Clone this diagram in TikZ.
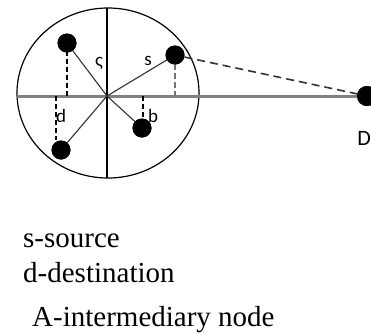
\documentclass[tikz,border=0pt]{standalone}
\usepackage{fontspec}
\usetikzlibrary{shapes.geometric}
\setmainfont{Liberation Serif}
\newfontfamily\lblfont{Carlito}
\begin{document}
\begin{tikzpicture}[x=1pt,y=-1pt,
  dot/.style={circle,fill=black,inner sep=0pt,minimum size=19pt},
  spoke/.style={draw=black!80,line width=1.1pt},
  axisv/.style={draw=black,line width=1.2pt},
  axish/.style={draw=black!50,line width=3pt},
  proj/.style={draw=black,line width=1.4pt,dash pattern=on 5pt off 3pt},
  lbl/.style={font=\lblfont\fontsize{19}{19}\selectfont,inner sep=0pt},
  legend/.style={font=\fontsize{29}{29}\selectfont,anchor=base west,inner sep=0pt}]
\useasboundingbox (0,0) rectangle (371,333);
\fill[white] (0,0) rectangle (371,333);
% circle
\node[draw=black,line width=1.2pt,ellipse,minimum width=182pt,minimum height=170pt,inner sep=0pt] (C) at (108,93) {};
\coordinate (O) at (107,96);
\coordinate (L) at (17,96);
\coordinate (T) at (107,8);
\coordinate (B) at (107,178);
% nodes
\node[dot] (n1) at (67,43) {};
\node[dot] (s) at (175,55) {};
\node[dot] (n3) at (142,128) {};
\node[dot] (n4) at (61,150) {};
\node[dot,minimum size=20pt] (D) at (367,96) {};
% projections feet
\coordinate (f1) at (67,96);
\coordinate (fs) at (175,96);
\coordinate (f3) at (143,96);
\coordinate (f4) at (56,96);
\coordinate (e4) at (56,140);
\coordinate (e3) at (143,117);
% axes
\draw[axish] (L) -- (D.center);
\draw[axisv] (T) -- (B);
% spokes
\draw[spoke] (O) -- (n1.center);
\draw[spoke] (O) -- (s.center);
\draw[spoke] (O) -- (n3.center);
\draw[spoke] (O) -- (n4.center);
% dashed projections
\draw[proj] (n1.center) -- (f1);
\draw[proj,draw=black!55,line width=2.5pt,dash pattern=on 6pt off 3pt] (s.center) -- (fs);
\draw[proj] (f3) -- (e3);
\draw[proj] (f4) -- (e4);
\draw[proj,draw=black!80,line width=1.6pt,dash pattern=on 8pt off 5pt] (s) -- (D);
% redraw dots on top
\fill (n1) circle (9.5pt);
\fill (s) circle (9.5pt);
\fill (n3) circle (9.5pt);
\fill (n4) circle (9.5pt);
\fill (D) circle (10pt);
% labels
\node[lbl] (l1) at (99,63) {ς};
\node[lbl] (l2) at (148,61) {s};
\node[lbl] (l3) at (61,116) {d};
\node[lbl] (l4) at (153,116) {b};
\node[lbl,font=\lblfont\fontsize{22}{22}\selectfont,anchor=east] (lD) at (371,138) {D};
% legend
\node[legend] (t1) at (23,247) {s-source};
\node[legend] (t2) at (23,282) {d-destination};
\node[legend] (t3) at (32,326) {A-intermediary node};
\end{tikzpicture}
\end{document}
